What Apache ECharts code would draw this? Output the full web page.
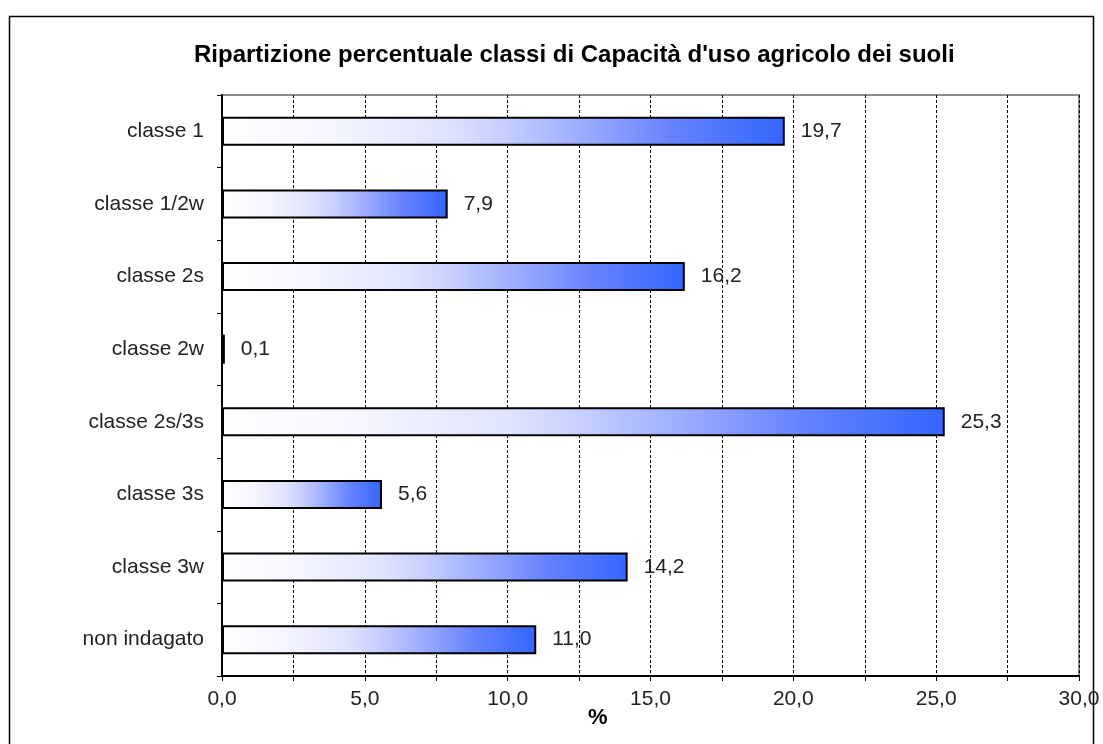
<!DOCTYPE html>
<html>
<head>
<meta charset="utf-8">
<style>
  html, body { margin: 0; padding: 0; background: #fff; }
  #chart { width: 1103px; height: 744px; }
</style>
<script src="https://cdn.jsdelivr.net/npm/echarts@6/dist/echarts.min.js"></script>
</head>
<body>
<div id="chart"></div>
<script>
// Land capability classes and their share of the surveyed area (%)
const categories = ['classe 1', 'classe 1/2w', 'classe 2s', 'classe 2w', 'classe 2s/3s', 'classe 3s', 'classe 3w', 'non indagato'];
const shares = [19.7, 7.9, 16.2, 0.1, 25.3, 5.6, 14.2, 11.0];
const titleText = "Ripartizione percentuale classi di Capacità d'uso agricolo dei suoli";
const axisUnit = '%';

const fmt = v => v.toFixed(1).replace('.', ',');
const font = 'Liberation Sans, Arial, sans-serif';

const chart = echarts.init(document.getElementById('chart'));
chart.setOption({
  animation: false,
  title: {
    text: titleText,
    left: 189,
    top: 38,
    textStyle: { fontFamily: font, fontSize: 24, fontWeight: 'bold', color: '#000' }
  },
  graphic: [
    {
      type: 'rect',
      shape: { x: 9.5, y: 16.5, width: 1084, height: 800 },
      style: { fill: 'none', stroke: '#000', lineWidth: 1.5 },
      z: -10
    },
    {
      type: 'text',
      left: 588,
      top: 707,
      style: { text: axisUnit, font: 'bold 22px ' + font, fill: '#000' }
    }
  ],
  grid: {
    left: 222, right: 24, top: 95, bottom: 68,
    show: true, borderColor: '#8c8c8c', borderWidth: 2, backgroundColor: 'transparent'
  },
  xAxis: {
    type: 'value',
    min: 0, max: 30, interval: 2.5,
    axisLine: { show: true, lineStyle: { color: '#000', width: 2 } },
    axisTick: { show: true, length: 5, lineStyle: { color: '#000', width: 1 } },
    splitLine: { show: true, lineStyle: { color: '#000', width: 1, type: [3, 2] } },
    axisLabel: {
      fontFamily: font, fontSize: 21, color: '#222', margin: 13,
      formatter: v => (Math.abs(v % 5) < 1e-9 ? fmt(v) : '')
    }
  },
  yAxis: {
    type: 'category',
    data: categories,
    inverse: true,
    axisLine: { show: true, lineStyle: { color: '#000', width: 2 } },
    axisTick: { show: true, length: 5, lineStyle: { color: '#000', width: 1 } },
    axisLabel: { fontFamily: font, fontSize: 21, color: '#222', margin: 18 },
    splitLine: { show: false }
  },
  series: [{
    type: 'bar',
    data: shares,
    barWidth: 29,
    itemStyle: {
      borderColor: '#000',
      borderWidth: 2,
      color: {
        type: 'linear', x: 0, y: 0, x2: 1, y2: 0,
        colorStops: [
          { offset: 0, color: '#ffffff' },
          { offset: 0.2, color: '#f4f5ff' },
          { offset: 0.4, color: '#dfe3ff' },
          { offset: 0.5, color: '#c6cfff' },
          { offset: 0.65, color: '#98a9ff' },
          { offset: 0.8, color: '#6683ff' },
          { offset: 1, color: '#3366ff' }
        ]
      }
    },
    label: {
      show: true,
      position: 'right',
      distance: 16,
      fontFamily: font, fontSize: 21, color: '#222',
      formatter: p => fmt(p.value)
    }
  }]
});
</script>
</body>
</html>
